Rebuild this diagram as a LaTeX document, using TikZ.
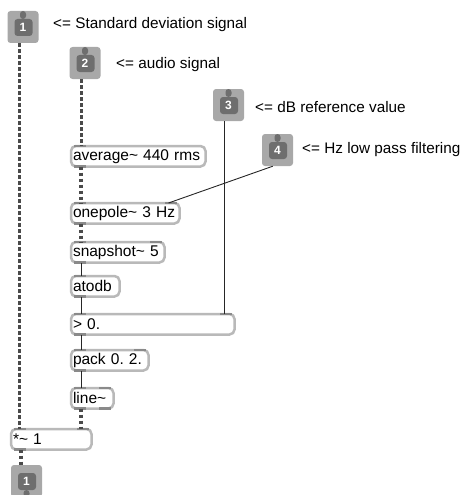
\documentclass[tikz,border=0pt]{standalone}
\usepackage{fontspec}
\setmainfont{Liberation Sans}
\usetikzlibrary{calc}
\definecolor{borde}{HTML}{B9B9B9}
\definecolor{pestana}{HTML}{8A8A8A}
\definecolor{puerto}{HTML}{A8A8A8}
\definecolor{oscuro}{HTML}{6E6E6E}
\definecolor{cable}{HTML}{4A4A4A}
\frenchspacing

\begin{document}
\begin{tikzpicture}[x=1pt, y=-1pt, font=\fontsize{15.5}{18}\selectfont,
      o/.style={draw=borde, fill=white, line width=2.5pt, rounded corners=5pt,
                anchor=north west, outer sep=0pt, inner xsep=2pt, inner ysep=1pt,
                minimum height=20.5pt, text width=#1, align=left},
      inport/.style={fill=puerto, rounded corners=3pt, minimum width=31pt, minimum height=32pt,
                inner sep=0pt, text=white, font=\fontsize{12}{12}\selectfont\bfseries,
                path picture={
                  \fill[oscuro] ($(path picture bounding box.north west)+(7,8)$) rectangle ($(path picture bounding box.south east)+(-6,-7)$);
                  \fill[oscuro] ($(path picture bounding box.north)+(-3,0)$) rectangle ($(path picture bounding box.north)+(3,8)$);}},
      outport/.style={fill=puerto, rounded corners=3pt, minimum width=31pt, minimum height=32pt,
                inner sep=0pt, text=white, font=\fontsize{12}{12}\selectfont\bfseries,
                path picture={
                  \fill[oscuro] ($(path picture bounding box.north west)+(7,8)$) rectangle ($(path picture bounding box.south east)+(-6,-7)$);
                  \fill[oscuro] ($(path picture bounding box.south)+(-3,0)$) rectangle ($(path picture bounding box.south)+(3,-7)$);}},
      lbl/.style={anchor=west, inner sep=0pt, font=\fontsize{15.3}{18}\selectfont},
      sig/.style={draw=cable, line width=3.5pt, dash pattern=on 3.5pt off 2.5pt},
      ctl/.style={draw=black!85, line width=0.9pt},
      tab/.style={draw=pestana, line width=2.5pt}]
    \useasboundingbox (0,0) rectangle (464,495);

    % inlets and outlet
    \node[inport] (i1) at (23,27) {1};
    \node[inport] (i2) at (85,63) {2};
    \node[inport] (i3) at (228.5,105) {3};
    \node[inport] (i4) at (277.5,150) {4};
    \node[outport] (o1) at (26.5,481) {1};

    \node[lbl] (t1) at (53,25) {<= Standard deviation signal};
    \node[lbl] (t2) at (116,65) {<= audio signal};
    \node[lbl] (t3) at (255,107) {<= dB reference value};
    \node[lbl] (t4) at (302,150) {<= Hz low pass filtering};

    % objects
    \node[o=130.5pt] (avg) at (71,146) {average\textasciitilde{} 440 rms};
    \node[o=104.5pt] (onepole) at (71,203) {onepole\textasciitilde{} 3 Hz};
    \node[o=89.5pt] (snap) at (71,242) {snapshot\textasciitilde{} 5};
    \node[o=44.5pt] (atodb) at (71,276) {atodb};
    \node[o=159.5pt] (gt) at (71,314) {> 0.};
    \node[o=73.5pt] (pack) at (71,350) {pack 0. 2.};
    \node[o=38.5pt] (line) at (71,388) {line\textasciitilde};
    \node[o=76.5pt] (mul) at (11,429) {*\textasciitilde{} 1};

    % inlet and outlet tabs
    \foreach \n in {avg,onepole,snap,atodb,gt,pack,line,mul} {
      \draw[tab] ([xshift=3pt]\n.north west) -- ++(12,0);
      \draw[tab] ([xshift=3pt]\n.south west) -- ++(12,0);
    }
    \foreach \n in {onepole,snap,gt,pack,line,mul}
      \draw[tab] ([xshift=-3pt]\n.north east) -- ++(-12,0);
    \draw[tab] ([xshift=-3pt]line.south east) -- ++(-12,0);

    % patch cords
    \draw[sig] ([xshift=12pt]i1.south west) -- ([xshift=12pt]i1.south west |- mul.north);
    \draw[sig] ([xshift=12pt]i2.south west) -- ([xshift=12pt]i2.south west |- avg.north);
    \draw[sig] ([xshift=10pt]avg.south west) -- ([xshift=10pt]onepole.north west);
    \draw[sig] ([xshift=10pt]onepole.south west) -- ([xshift=10pt]snap.north west);
    \draw[ctl] ([xshift=10pt]snap.south west) -- ([xshift=10pt]atodb.north west);
    \draw[ctl] ([xshift=10pt]atodb.south west) -- ([xshift=10pt]gt.north west);
    \draw[ctl] ([xshift=10pt]gt.south west) -- ([xshift=10pt]pack.north west);
    \draw[ctl] ([xshift=10pt]pack.south west) -- ([xshift=10pt]line.north west);
    \draw[sig] ([xshift=10pt]line.south west) -- ([xshift=10pt]line.south west |- mul.north);
    \draw[sig] ([xshift=10pt]mul.south west) -- ([xshift=10pt]mul.south west |- o1.north);
    \draw[ctl] ([xshift=12pt]i3.south west) -- ([xshift=12pt]i3.south west |- gt.north);
    \draw[ctl] ([xshift=11pt]i4.south west) -- ([xshift=-11pt]onepole.north east);
  \end{tikzpicture}
\end{document}
